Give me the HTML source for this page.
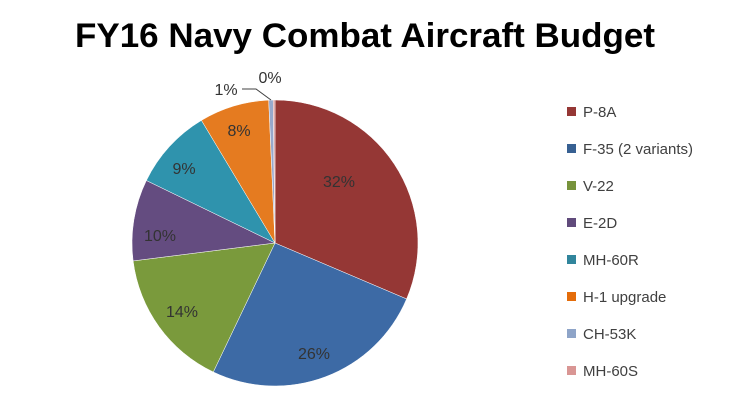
<!DOCTYPE html>
<html><head><meta charset="utf-8"><style>
body{margin:0;background:#fff;}
svg text{font-family:"Liberation Sans",sans-serif;}
</style></head><body>
<svg id="s" width="729" height="414" xmlns="http://www.w3.org/2000/svg">
<rect width="729" height="414" fill="#fff"/>
<text x="365" y="47" text-anchor="middle" textLength="580" lengthAdjust="spacingAndGlyphs" style="font-family:'Liberation Sans',sans-serif;font-weight:bold;font-size:34px" fill="#000">FY16 Navy Combat Aircraft Budget</text>
<g id="pie"></g>
<g font-size="16" fill="#333">
<text x="339" y="187" text-anchor="middle">32%</text>
<text x="314" y="359" text-anchor="middle">26%</text>
<text x="182" y="317" text-anchor="middle">14%</text>
<text x="160" y="241" text-anchor="middle">10%</text>
<text x="184" y="174" text-anchor="middle">9%</text>
<text x="239" y="136" text-anchor="middle">8%</text>
<text x="226" y="95" text-anchor="middle">1%</text>
<text x="270" y="83" text-anchor="middle">0%</text>
</g>
<polyline points="242,89 256,89 271,100" fill="none" stroke="#404040" stroke-width="1"/>
<g font-size="15" fill="#404040">
<rect x="567" y="107" width="9" height="9" fill="#953735"/><text x="583" y="117">P-8A</text>
<rect x="567" y="144" width="9" height="9" fill="#376092"/><text x="583" y="154">F-35 (2 variants)</text>
<rect x="567" y="181" width="9" height="9" fill="#77933c"/><text x="583" y="191">V-22</text>
<rect x="567" y="218" width="9" height="9" fill="#604a7b"/><text x="583" y="228">E-2D</text>
<rect x="567" y="255" width="9" height="9" fill="#31859c"/><text x="583" y="265">MH-60R</text>
<rect x="567" y="292" width="9" height="9" fill="#e46c0a"/><text x="583" y="302">H-1 upgrade</text>
<rect x="567" y="329" width="9" height="9" fill="#8ea4c8"/><text x="583" y="339">CH-53K</text>
<rect x="567" y="366" width="9" height="9" fill="#d99694"/><text x="583" y="376">MH-60S</text>
</g>
</svg>
<script>
var cx=275,cy=243,r=143;
var ends=[0.314,0.571,0.730,0.822,0.914,0.993,0.998,1.0];
var cols=["#953735","#3d6aa5","#7a9a3c","#644c80","#2f93ad","#e57b20","#98a8cc","#d89090"];
var g=document.getElementById("pie"),s=0,h="";
function pt(f){var a=f*2*Math.PI;return [cx+r*Math.sin(a),cy-r*Math.cos(a)];}
for(var i=0;i<ends.length;i++){var p=pt(s),q=pt(ends[i]);var l=(ends[i]-s)>0.5?1:0;
h+='<path d="M'+cx+','+cy+' L'+p[0]+','+p[1]+' A'+r+','+r+' 0 '+l+' 1 '+q[0]+','+q[1]+' Z" fill="'+cols[i]+'" stroke="#fff" stroke-width="0.5"/>';s=ends[i];}
g.innerHTML=h;
</script>
</body></html>
